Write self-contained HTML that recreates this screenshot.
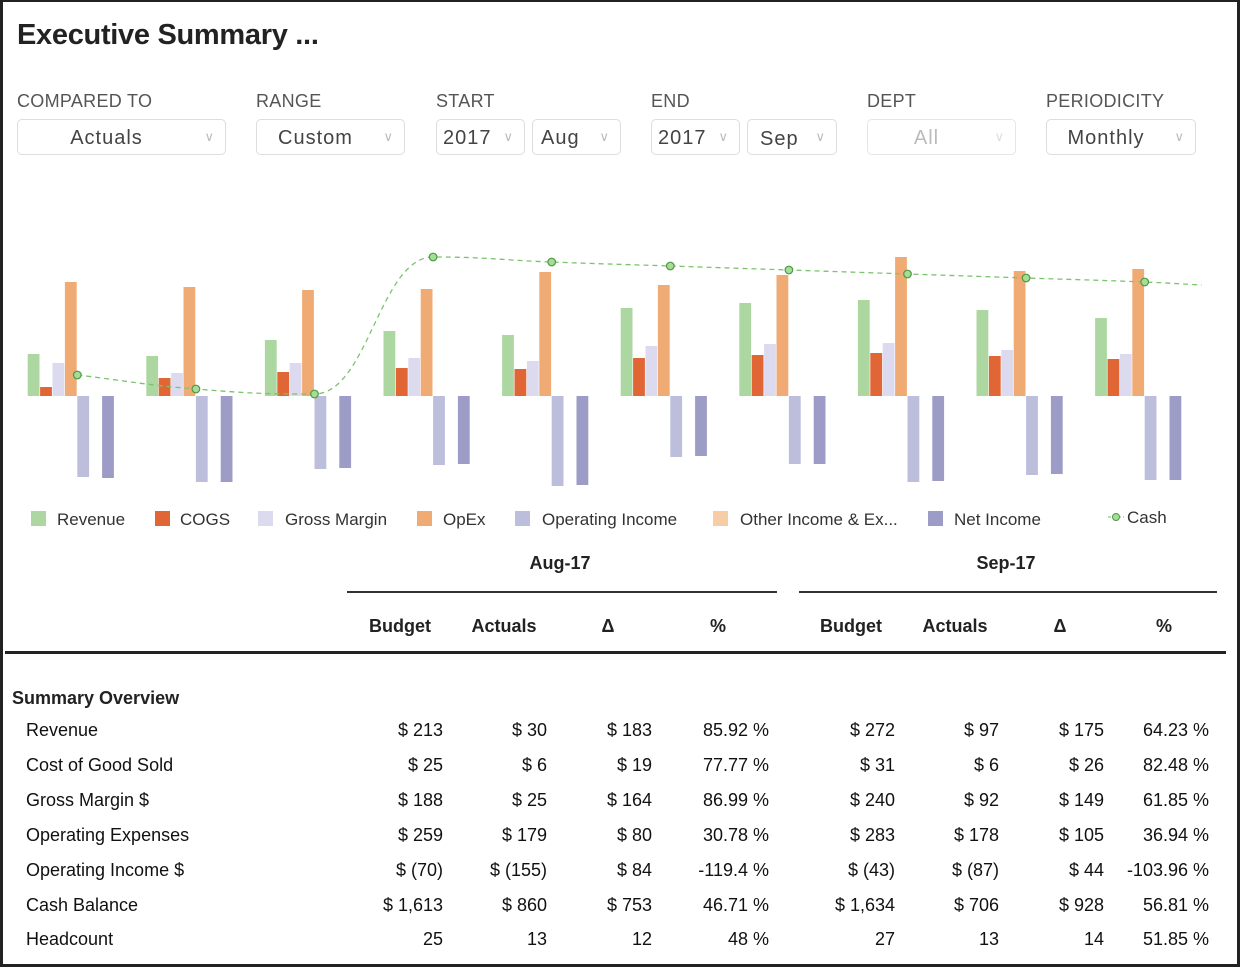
<!DOCTYPE html>
<html><head><meta charset="utf-8"><style>
body{margin:0;background:#fff;}
#root{position:relative;width:1234px;height:962px;border:3px solid #222;border-top-width:2px;overflow:hidden;font-family:"Liberation Sans",sans-serif;color:#222;background:#fff;}
.abs{position:absolute;}
.lbl{position:absolute;font-size:18px;color:#555;letter-spacing:0.3px;}
.dd{position:absolute;height:36px;border:1.5px solid #ddd;border-radius:5px;box-sizing:border-box;font-size:20px;color:#444;line-height:36px;letter-spacing:1px;}
.dd .car{position:absolute;right:10px;top:0;color:#bbb;font-size:13px;line-height:33px;}
.leg{position:absolute;top:508px;font-size:17px;color:#333;}
.leg i{position:absolute;left:0;top:1px;width:15px;height:15px;}
.th{position:absolute;font-weight:bold;font-size:18px;transform:translateX(-50%);}
.row{position:absolute;left:0;width:1234px;height:30px;font-size:18px;color:#111;}
.row span{position:absolute;text-align:right;}
</style></head><body>
<div id="root">
<div class="abs" style="left:14px;top:17px;font-size:29px;font-weight:bold;letter-spacing:-0.3px;">Executive Summary ...</div>

<div class="lbl" style="left:14px;top:89px">COMPARED TO</div>
<div class="lbl" style="left:253px;top:89px">RANGE</div>
<div class="lbl" style="left:433px;top:89px">START</div>
<div class="lbl" style="left:648px;top:89px">END</div>
<div class="lbl" style="left:864px;top:89px">DEPT</div>
<div class="lbl" style="left:1043px;top:89px">PERIODICITY</div>

<div class="dd" style="left:14px;top:117px;width:209px;text-align:center;padding-right:30px">Actuals<span class="car">&#8744;</span></div>
<div class="dd" style="left:253px;top:117px;width:149px;text-align:center;padding-right:30px">Custom<span class="car">&#8744;</span></div>
<div class="dd" style="left:433px;top:117px;width:89px;padding-left:6px">2017<span class="car">&#8744;</span></div>
<div class="dd" style="left:529px;top:117px;width:89px;padding-left:8px">Aug<span class="car">&#8744;</span></div>
<div class="dd" style="left:648px;top:117px;width:89px;padding-left:6px">2017<span class="car">&#8744;</span></div>
<div class="dd" style="left:744px;top:117px;width:90px;padding-left:12px;line-height:39px">Sep<span class="car">&#8744;</span></div>
<div class="dd" style="left:864px;top:117px;width:149px;text-align:center;padding-right:30px;color:#bbb;border-color:#e6e6e6">All<span class="car" style="color:#ddd">&#8744;</span></div>
<div class="dd" style="left:1043px;top:117px;width:150px;text-align:center;padding-right:30px">Monthly<span class="car">&#8744;</span></div>

<svg id="chart" class="abs" style="left:-3px;top:-2px" width="1240" height="500"></svg>

<div class="leg" style="left:28px"><i style="background:#acd7a1"></i><span style="margin-left:26px">Revenue</span></div>
<div class="leg" style="left:152px"><i style="background:#e06636"></i><span style="margin-left:25px">COGS</span></div>
<div class="leg" style="left:255px"><i style="background:#dcdaee"></i><span style="margin-left:27px">Gross Margin</span></div>
<div class="leg" style="left:414px"><i style="background:#f0ab74"></i><span style="margin-left:26px">OpEx</span></div>
<div class="leg" style="left:512px"><i style="background:#bcbedb"></i><span style="margin-left:27px">Operating Income</span></div>
<div class="leg" style="left:710px"><i style="background:#f6cda5"></i><span style="margin-left:27px">Other Income &amp; Ex...</span></div>
<div class="leg" style="left:925px"><i style="background:#9d9cc6"></i><span style="margin-left:26px">Net Income</span></div>
<div class="leg" style="left:1105px;top:506px"><svg class="abs" style="left:0;top:2px" width="16" height="14"><line x1="0" y1="7" x2="16" y2="7" stroke="#6cbf5f" stroke-dasharray="3,2"/><circle cx="8" cy="7" r="3.5" fill="#a6dc98" stroke="#4a9a40"/></svg><span style="margin-left:19px">Cash</span></div>

<div class="th" style="left:557px;top:551px">Aug-17</div>
<div class="th" style="left:1003px;top:551px">Sep-17</div>
<div class="abs" style="left:344px;top:589px;width:430px;height:1.5px;background:#333"></div>
<div class="abs" style="left:796px;top:589px;width:418px;height:1.5px;background:#333"></div>
<div class="th" style="left:397px;top:614px">Budget</div>
<div class="th" style="left:501px;top:614px">Actuals</div>
<div class="th" style="left:605px;top:614px">Δ</div>
<div class="th" style="left:715px;top:614px">%</div>
<div class="th" style="left:848px;top:614px">Budget</div>
<div class="th" style="left:952px;top:614px">Actuals</div>
<div class="th" style="left:1057px;top:614px">Δ</div>
<div class="th" style="left:1161px;top:614px">%</div>
<div class="abs" style="left:2px;top:649px;width:1221px;height:2.5px;background:#222"></div>
<div class="abs" style="left:9px;top:686px;font-size:18px;font-weight:bold">Summary Overview</div>
<div id="rows"></div>
</div>
<script>
const categories=['M1','M2','M3','M4','M5','M6','M7','M8','M9','M10'];
const revenue=[42,40,56,65,61,88,93,96,86,78];
const cogs=[9,18,24,28,27,38,41,43,40,37];
const grossMargin=[33,23,33,38,35,50,52,53,46,42];
const opex=[114,109,106,107,124,111,121,139,125,127];
const operatingIncome=[-81,-86,-73,-69,-90,-61,-68,-86,-79,-84];
const otherIncome=[0,0,0,0,0,0,0,0,0,0];
const netIncome=[-82,-86,-72,-68,-89,-60,-68,-85,-78,-84];
const cash=[21,7,2,139,134,130,126,122,118,114];

const svg=document.getElementById('chart');
const NS='http://www.w3.org/2000/svg';
const base=396, x0=27.7, groupW=118.6, barW=12.4;
const yS=v=>base-v;
const xG=i=>x0+i*groupW;
const series=[[revenue,'#acd7a1','revenue'],[cogs,'#e06636','cogs'],[grossMargin,'#dcdaee','gross-margin'],[opex,'#f0ab74','opex'],[operatingIncome,'#bcbedb','operating-income'],[otherIncome,'#f6cda5','other-income'],[netIncome,'#9d9cc6','net-income']];
series.forEach(([arr,col,nm],s)=>{
  arr.forEach((v,i)=>{
    const r=document.createElementNS(NS,'rect');
    r.setAttribute('x',xG(i)+s*barW);
    r.setAttribute('y',Math.min(yS(v),base));
    r.setAttribute('width',barW-0.6);
    r.setAttribute('height',Math.abs(v));
    r.setAttribute('fill',col);
    
    
    svg.appendChild(r);
  });
});
const pts=cash.map((v,i)=>[xG(i)+4*barW,yS(v)]);
const last=pts[pts.length-1];
const ext=[last[0]+57,last[1]+3];
const all=pts.concat([ext]);
let d='M'+all[0][0]+','+all[0][1];
for(let i=0;i<all.length-1;i++){
  const [xa,ya]=all[i],[xb,yb]=all[i+1];
  const dx=(xb-xa)*0.45;
  const ma=i>0?Math.sign(yb-ya)===Math.sign(ya-all[i-1][1])?((yb-all[i-1][1])/(xb-all[i-1][0])):0:(yb-ya)/(xb-xa);
  const nb=all[i+2];
  const mb=nb?(Math.sign(nb[1]-yb)===Math.sign(yb-ya)?((nb[1]-ya)/(nb[0]-xa)):0):(yb-ya)/(xb-xa);
  d+=' C'+(xa+dx)+','+(ya+ma*dx)+' '+(xb-dx)+','+(yb-mb*dx)+' '+xb+','+yb;
}
const p=document.createElementNS(NS,'path');
p.setAttribute('d',d);p.setAttribute('fill','none');p.setAttribute('stroke','#7cc36e');p.setAttribute('stroke-width','1.3');p.setAttribute('stroke-dasharray','5,4');


svg.appendChild(p);
pts.forEach((q,i)=>{
  const c=document.createElementNS(NS,'circle');
  c.setAttribute('cx',q[0]);c.setAttribute('cy',q[1]);c.setAttribute('r',3.8);
  c.setAttribute('fill','#a6dc98');c.setAttribute('stroke','#4a9a40');c.setAttribute('stroke-width','1.2');
  
  
  svg.appendChild(c);
});

const rowLabels=['Revenue','Cost of Good Sold','Gross Margin $','Operating Expenses','Operating Income $','Cash Balance','Headcount'];
const rowValues=[
['$ 213','$ 30','$ 183','85.92 %','$ 272','$ 97','$ 175','64.23 %'],
['$ 25','$ 6','$ 19','77.77 %','$ 31','$ 6','$ 26','82.48 %'],
['$ 188','$ 25','$ 164','86.99 %','$ 240','$ 92','$ 149','61.85 %'],
['$ 259','$ 179','$ 80','30.78 %','$ 283','$ 178','$ 105','36.94 %'],
['$ (70)','$ (155)','$ 84','-119.4 %','$ (43)','$ (87)','$ 44','-103.96 %'],
['$ 1,613','$ 860','$ 753','46.71 %','$ 1,634','$ 706','$ 928','56.81 %'],
['25','13','12','48 %','27','13','14','51.85 %']];
const rights=[440,544,649,766,892,996,1101,1206];
const rowsEl=document.getElementById('rows');
rowLabels.forEach((lab,r)=>{
  const row=document.createElement('div');
  row.className='row';
  row.style.top=(718+r*34.9)+'px';
  
  
  let h='<span style="left:23px;text-align:left">'+lab+'</span>';
  rowValues[r].forEach((v,c)=>{h+='<span style="right:'+(1234-rights[c])+'px">'+v+'</span>';});
  row.innerHTML=h;
  rowsEl.appendChild(row);
});
</script>
</body></html>
